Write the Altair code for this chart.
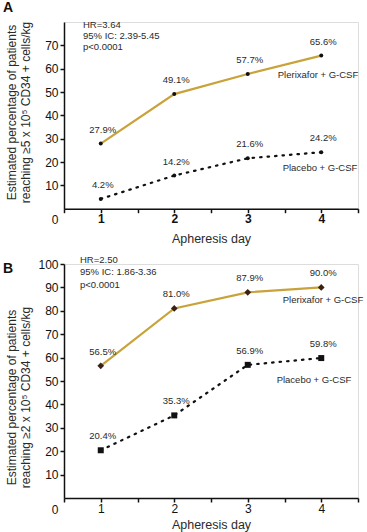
import altair as alt
import pandas as pd

days = [1, 2, 3, 4]
series_names = ["Plerixafor + G-CSF", "Placebo + G-CSF"]

a_plerixafor = [27.9, 49.1, 57.7, 65.6]
a_placebo = [4.2, 14.2, 21.6, 24.2]
b_plerixafor = [56.5, 81.0, 87.9, 90.0]
b_placebo = [20.4, 35.3, 56.9, 59.8]

a_stats = ["HR=3.64", "95% IC: 2.39-5.45", "p<0.0001"]
b_stats = ["HR=2.50", "95% IC: 1.86-3.36", "p<0.0001"]

a_ytitle = ["Estimated percentage of patients", "reaching \u22655 x 10\u2075 CD34 + cells/kg"]
b_ytitle = ["Estimated percentage of patients", "reaching \u22652 x 10\u2075 CD34 + cells/kg"]

FONT = "Liberation Sans"
GOLD = "#c9a23a"
DARK = "#111111"
TEXT = "#2a2a2a"
BROWN = "#3a2212"
WIDTH = 294


def frame(pler, plac):
    rows = []
    for d, v in zip(days, pler):
        rows.append({"day": d, "pct": v, "series": series_names[0], "label": f"{v:.1f}%"})
    for d, v in zip(days, plac):
        rows.append({"day": d, "pct": v, "series": series_names[1], "label": f"{v:.1f}%"})
    return pd.DataFrame(rows)


def panel(df, letter, stats, ytitle, ymax, yticks, height, xbold,
          pler_shape, pler_color, pler_size, plac_shape, plac_size,
          stats_pos, stats_lh, pler_lab, plac_lab, title_y, xtitle_pad,
          letter_y, origin_dy, edge):
    x = alt.X("day:Q",
              scale=alt.Scale(domain=[0.5, 4.5], nice=False, zero=False),
              axis=alt.Axis(values=[0.5, 1, 1.5, 2, 2.5, 3, 3.5, 4, 4.5],
                            labelExpr="datum.value % 1 == 0 ? datum.value : ''",
                            title="Apheresis day", grid=False,
                            labelFontWeight="bold" if xbold else "normal",
                            labelFontSize=12, titleFontSize=12.5, titleFontWeight="normal",
                            tickSize=4, labelPadding=1, titlePadding=xtitle_pad,
                            domainColor=DARK, tickColor=DARK, labelColor=DARK,
                            titleColor=TEXT, labelFont=FONT, titleFont=FONT,
                            domainWidth=1.5, tickWidth=1.5))
    y = alt.Y("pct:Q",
              scale=alt.Scale(domain=[0, ymax], nice=False),
              axis=alt.Axis(values=yticks, title=ytitle, grid=False,
                            labelFontSize=12, titleFontSize=12, titleFontWeight="normal",
                            tickSize=4, labelPadding=2,
                            titleX=-46, titleY=title_y,
                            domainColor=DARK, tickColor=DARK, labelColor=DARK,
                            titleColor=TEXT, labelFont=FONT, titleFont=FONT,
                            domainWidth=1.5, tickWidth=1.5, titleLineHeight=14))

    base = alt.Chart(df)
    pler = base.transform_filter(alt.datum.series == series_names[0])
    plac = base.transform_filter(alt.datum.series == series_names[1])

    pler_line = pler.mark_line(color=GOLD, strokeWidth=2.2).encode(x=x, y=y)
    plac_line = plac.mark_line(color=DARK, strokeWidth=2.2, strokeDash=[1.5, 6],
                               strokeCap="round").encode(x=x, y=y)
    pler_pts = pler.mark_point(shape=pler_shape, filled=True, color=pler_color,
                               size=pler_size, opacity=1).encode(x=x, y=y)
    plac_pts = plac.mark_point(shape=plac_shape, filled=True, color=DARK,
                               size=plac_size, opacity=1).encode(x=x, y=y)
    labels = base.mark_text(font=FONT, fontSize=9.5, color=TEXT, dy=-14, dx=2).encode(
        x=x, y=y, text="label:N")

    stats_txt = alt.Chart(pd.DataFrame({"t": ["\n".join(stats)]})).mark_text(
        font=FONT, fontSize=9.5, color=TEXT, align="left", baseline="top",
        lineBreak="\n", lineHeight=stats_lh).encode(
        x=alt.value(stats_pos[0]), y=alt.value(stats_pos[1]), text="t:N")

    name_df = pd.DataFrame({"t": series_names})
    name1 = alt.Chart(name_df).transform_filter(
        alt.datum.t == series_names[0]).mark_text(
        font=FONT, fontSize=9.5, color=TEXT).encode(
        x=alt.value(pler_lab[0]), y=alt.value(pler_lab[1]), text="t:N")
    name2 = alt.Chart(name_df).transform_filter(
        alt.datum.t == series_names[1]).mark_text(
        font=FONT, fontSize=9.5, color=TEXT).encode(
        x=alt.value(plac_lab[0]), y=alt.value(plac_lab[1]), text="t:N")

    origin = alt.Chart(pd.DataFrame({"t": ["0"]})).mark_text(
        font=FONT, fontSize=12, color=DARK).encode(
        x=alt.value(-9), y=alt.value(height + origin_dy), text="t:N")
    tag = alt.Chart(pd.DataFrame({"t": [letter]})).mark_text(
        font=FONT, fontSize=14, fontWeight="bold", color=DARK, align="left").encode(
        x=alt.value(-61), y=alt.value(letter_y), text="t:N")

    # invisible edge that fixes the outer extent of the figure
    edge_rule = alt.Chart(pd.DataFrame({"t": [0]})).mark_rule(
        strokeOpacity=0, strokeWidth=1).encode(
        x=alt.value(-63.5), x2=alt.value(WIDTH + 8.5), y=alt.value(edge))

    return alt.layer(pler_line, plac_line, pler_pts, plac_pts, labels,
                     stats_txt, name1, name2, origin, tag, edge_rule).properties(
        width=WIDTH, height=height)


chart_a = panel(frame(a_plerixafor, a_placebo), "A", a_stats, a_ytitle, 80,
                [10, 20, 30, 40, 50, 60, 70], 186.7, True,
                "circle", DARK, 16, "circle", 16,
                (19, -2.5), 11.3, (254, 53.4), (256, 146.4), 90, 8,
                -13.6, 11, -21.1)
chart_b = panel(frame(b_plerixafor, b_placebo), "B", b_stats, b_ytitle, 100,
                [10, 20, 30, 40, 50, 60, 70, 80, 90, 100], 234, False,
                "diamond", BROWN, 45, "square", 36,
                (16, -9.5), 12.5, (259, 36), (250, 116), 133, 4,
                5, 12, 234 + 34.5)

chart = alt.vconcat(chart_a, chart_b, spacing=55, bounds="flush").properties(
    padding=0,
).configure_view(stroke=None).configure(background="white")

chart.save("out.html", embed_options={"renderer": "svg", "actions": False})
